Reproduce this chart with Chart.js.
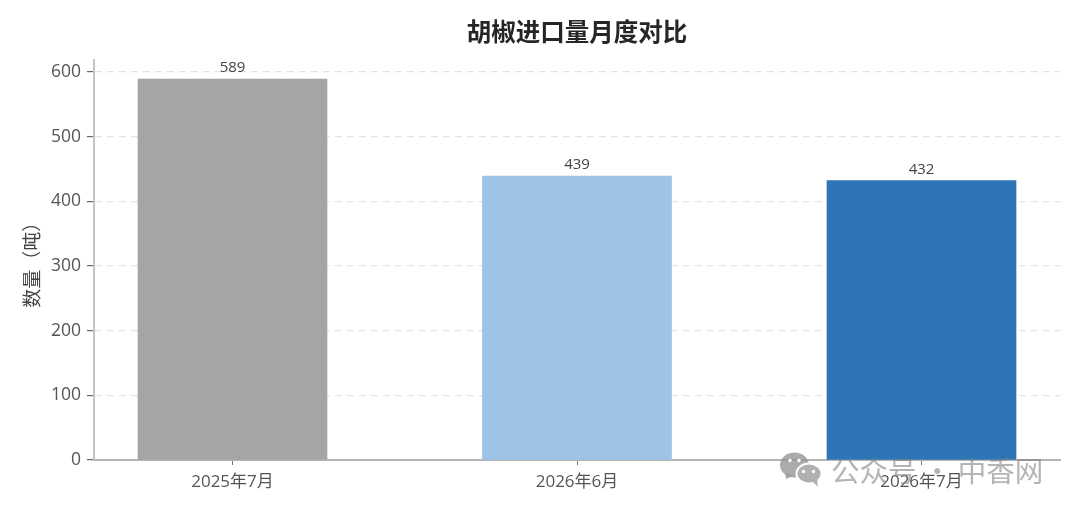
<!DOCTYPE html>
<html><head><meta charset="utf-8">
<style>html,body{margin:0;padding:0;background:#fff}canvas{display:block}</style>
<script src="https://cdn.jsdelivr.net/npm/chart.js@4"></script>
</head><body><canvas id="c" width="1080" height="513"></canvas>
<script>
const categories = ["2025年7月","2026年6月","2026年7月"];
const values = [589,439,432];
const barColors = ["#a5a5a5","#9dc3e6","#2e75b6"];
const yTicks = [0,100,200,300,400,500,600];
const chartTitle = "胡椒进口量月度对比";
const yTitle = "数量（吨）";
const watermark = "公众号 · 中香网";
const FONT = '"Open Sans","Noto Sans CJK SC",sans-serif';

const valueLabels = {
  id:'valueLabels',
  afterDatasetsDraw(ch){
    const c=ch.ctx, m=ch.getDatasetMeta(0);
    c.save();c.font='15px '+FONT;c.fillStyle='#444';c.textAlign='center';c.textBaseline='alphabetic';
    m.data.forEach((b,i)=>c.fillText(String(values[i]),b.x,b.y-7));
    c.restore();
  }
};
const wm = {
  id:'wm',
  afterDraw(ch){
    const c=ch.ctx;
    c.save();
    c.fillStyle='rgba(150,150,150,0.8)';
    c.beginPath();c.ellipse(794.5,465,14.5,12.5,0,0,Math.PI*2);c.fill();
    c.beginPath();c.moveTo(785,473);c.lineTo(786,479);c.lineTo(793,476);c.fill();
    c.strokeStyle='#fff';c.lineWidth=2;
    c.fillStyle='#b0b0b0';
    c.beginPath();c.ellipse(809,473.5,12.5,10,0,0,Math.PI*2);c.fill();c.stroke();
    c.beginPath();c.moveTo(812.5,481.5);c.lineTo(817.5,486.5);c.lineTo(817.5,478.5);c.fill();
    c.fillStyle='#fff';
    [[790,460.5],[799,460.5],[803.5,471.5],[813.5,471.5]].forEach(p=>{c.beginPath();c.arc(p[0],p[1],1.7,0,Math.PI*2);c.fill();});
    c.fillStyle='rgba(125,125,125,0.58)';
    c.font='28.5px "Noto Sans CJK SC",sans-serif';c.textAlign='left';c.textBaseline='middle';
    c.fillText(watermark,831,471);
    c.restore();
  }
};

new Chart(document.getElementById('c'),{
  type:'bar',
  data:{datasets:[{
    data:values.map((v,i)=>({x:i,y:v})),
    backgroundColor:barColors,
    barThickness:189,
    borderWidth:0
  }]},
  options:{
    responsive:false,animation:false,devicePixelRatio:1,
    layout:{padding:{left:0,right:20,top:0,bottom:0}},
    plugins:{
      legend:{display:false},tooltip:{enabled:false},
      title:{display:true,text:chartTitle,fullSize:false,color:'#262626',
        font:{family:FONT,size:24.5,weight:'bold'},padding:{top:19,bottom:12}}
    },
    scales:{
      x:{type:'linear',offset:false,min:-0.402,max:2.402,
        afterBuildTicks(s){s.ticks=categories.map((_,i)=>({value:i}));},
        afterFit(s){s.height=53;},
        grid:{offset:false,drawOnChartArea:false,drawTicks:true,tickLength:5,tickColor:'#777'},
        border:{color:'#b5b5b5',width:2},
        ticks:{color:'#555',font:{family:FONT,size:17},padding:7,maxRotation:0,autoSkip:false,
          callback:v=>categories[v]}
      },
      y:{min:0,max:618,
        afterBuildTicks(s){s.ticks=yTicks.map(v=>({value:v}));},
        afterFit(s){s.width=94;},
        grid:{color:'#e4e4e4',lineWidth:1.2,tickLength:7,tickColor:'#666',tickBorderDash:[]},
        border:{color:'#c4c4c4',width:2,dash:[7,5]},
        ticks:{color:'#555',font:{family:FONT,size:17.5},padding:6},
        title:{display:true,text:yTitle,color:'#444',font:{family:FONT,size:19},padding:{top:22,bottom:0}}
      }
    }
  },
  plugins:[valueLabels,wm]
});
</script></body></html>
